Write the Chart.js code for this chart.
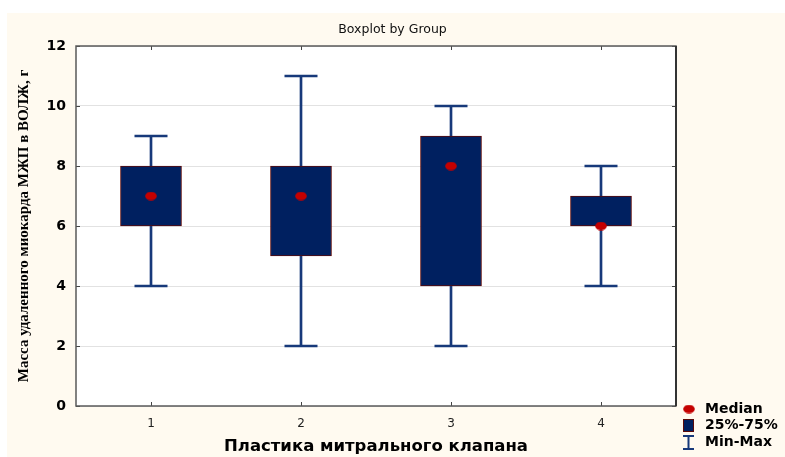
<!DOCTYPE html>
<html>
<head>
<meta charset="utf-8">
<script src="https://cdn.jsdelivr.net/npm/chart.js@4/dist/chart.umd.min.js"></script>
<style>
  html, body { margin: 0; padding: 0; background: #ffffff; }
  #wrap { width: 785px; height: 457px; }
</style>
</head>
<body>
<div id="wrap"><canvas id="c" width="785" height="457"></canvas></div>
<script>
// Group labels and summary statistics per group
const groups = ['1', '2', '3', '4'];
const minValues = [4, 2, 2, 4];
const q1Values = [6, 5, 4, 6];
const q3Values = [8, 8, 9, 7];
const maxValues = [9, 11, 10, 8];
const medianValues = [7, 7, 8, 6];
const legendLabels = ['Median', '25%-75%', 'Min-Max'];

const NAVY = '#002060';
const WHISKER = '#17397a';
const RED = '#c40000';

// Elliptical marker for medians
const medianMarker = document.createElement('canvas');
medianMarker.width = 12; medianMarker.height = 9;
(function () {
  const g = medianMarker.getContext('2d');
  g.fillStyle = RED;
  g.beginPath();
  g.ellipse(6, 4.5, 5.8, 4.3, 0, 0, Math.PI * 2);
  g.fill();
})();

// Page background panel, plot frame, inward ticks and legend
const panelPlugin = {
  id: 'panel',
  beforeDraw(chart) {
    const ctx = chart.ctx, a = chart.chartArea;
    ctx.save();
    ctx.fillStyle = '#ffffff';
    ctx.fillRect(0, 0, chart.width, chart.height);
    ctx.fillStyle = '#fffaf0';
    ctx.fillRect(7, 13, chart.width - 7, chart.height - 13);
    ctx.fillStyle = '#ffffff';
    ctx.fillRect(a.left, a.top, a.right - a.left, a.bottom - a.top);
    ctx.restore();
  },
  afterDatasetsDraw(chart) {
    const ctx = chart.ctx, a = chart.chartArea;
    const xs = chart.scales.x, ys = chart.scales.y;
    ctx.save();
    ctx.strokeStyle = '#444';
    ctx.lineWidth = 1;
    ctx.beginPath();
    groups.forEach((g, i) => {
      const x = Math.round(xs.getPixelForValue(i)) + 0.5;
      ctx.moveTo(x, a.top); ctx.lineTo(x, a.top + 4);
      ctx.moveTo(x, a.bottom); ctx.lineTo(x, a.bottom - 4);
    });
    ys.ticks.forEach(t => {
      const y = Math.round(ys.getPixelForValue(t.value)) + 0.5;
      ctx.moveTo(a.left, y); ctx.lineTo(a.left + 4, y);
      ctx.moveTo(a.right, y); ctx.lineTo(a.right - 4, y);
    });
    ctx.stroke();
    ctx.strokeStyle = '#5a5a5a';
    ctx.lineWidth = 1.5;
    ctx.strokeRect(a.left, a.top, a.right - a.left, a.bottom - a.top);
    ctx.strokeStyle = '#333';
    ctx.lineWidth = 2;
    ctx.beginPath();
    ctx.moveTo(a.right, a.top); ctx.lineTo(a.right, a.bottom);
    ctx.stroke();
    ctx.restore();
  },
  afterDraw(chart) {
    const ctx = chart.ctx;
    ctx.save();
    ctx.font = 'bold 14px "DejaVu Sans"';
    ctx.textBaseline = 'middle';
    const lx = 683, tx = 705;
    const rows = [409, 425.5, 442];
    ctx.drawImage(medianMarker, lx, rows[0] - 4.5);
    ctx.fillStyle = NAVY;
    ctx.fillRect(lx, rows[1] - 6.5, 11, 13);
    ctx.strokeStyle = '#5a0a0a'; ctx.lineWidth = 1;
    ctx.strokeRect(lx + 0.5, rows[1] - 6, 10, 12);
    ctx.strokeStyle = WHISKER; ctx.lineWidth = 2;
    ctx.beginPath();
    ctx.moveTo(lx, rows[2] - 6); ctx.lineTo(lx + 11, rows[2] - 6);
    ctx.moveTo(lx + 5.5, rows[2] - 6); ctx.lineTo(lx + 5.5, rows[2] + 7);
    ctx.moveTo(lx, rows[2] + 7); ctx.lineTo(lx + 11, rows[2] + 7);
    ctx.stroke();
    ctx.fillStyle = '#000';
    legendLabels.forEach((t, i) => ctx.fillText(t, tx, rows[i]));
    ctx.restore();
  }
};

new Chart(document.getElementById('c'), {
  data: {
    labels: groups,
    datasets: [
      {
        type: 'bar', label: 'range', order: 4, grouped: false,
        data: groups.map((g, i) => [minValues[i], maxValues[i]]),
        backgroundColor: WHISKER, barThickness: 2
      },
      {
        type: 'bar', label: 'quartiles', order: 3, grouped: false,
        data: groups.map((g, i) => [q1Values[i], q3Values[i]]),
        backgroundColor: NAVY, borderColor: '#5a0a0a', borderWidth: 1,
        borderSkipped: false, barThickness: 61
      },
      {
        type: 'line', label: 'max', order: 2, showLine: false,
        data: maxValues, pointStyle: 'line', pointRadius: 16.5,
        borderColor: WHISKER, borderWidth: 2.5, pointHoverRadius: 16.5
      },
      {
        type: 'line', label: 'min', order: 2, showLine: false,
        data: minValues, pointStyle: 'line', pointRadius: 16.5,
        borderColor: WHISKER, borderWidth: 2.5, pointHoverRadius: 16.5
      },
      {
        type: 'line', label: 'median', order: 1, showLine: false,
        data: medianValues, pointStyle: medianMarker
      }
    ]
  },
  options: {
    responsive: false,
    animation: false,
    layout: { padding: 0 },
    plugins: {
      legend: { display: false },
      tooltip: { enabled: false },
      title: {
        display: true, text: 'Boxplot by Group', color: '#111',
        font: { family: '"DejaVu Sans"', size: 12.5, weight: 'normal', lineHeight: 1.2 },
        padding: { top: 22, bottom: 9 }
      }
    },
    scales: {
      x: {
        type: 'category', offset: true,
        grid: { display: false, drawTicks: false },
        border: { display: false },
        ticks: { color: '#222', padding: 11, font: { family: '"DejaVu Sans"', size: 12 } },
        title: {
          display: true, text: 'Пластика митрального клапана', color: '#000',
          font: { family: '"DejaVu Sans"', size: 16.5, weight: 'bold', lineHeight: 1.2 },
          padding: { top: 13, bottom: 0 }
        },
        afterFit(s) { s.height = 51; }
      },
      y: {
        min: 0, max: 12,
        ticks: { stepSize: 2, color: '#000', padding: 10,
          font: { family: '"DejaVu Sans"', size: 14, weight: 'bold' } },
        grid: { color: '#e2e2e2', drawTicks: false, lineWidth: 1 },
        border: { display: false },
        title: {
          display: true, text: 'Масса удаленного миокарда МЖП в ВОЛЖ, г', color: '#000',
          font: { family: '"Liberation Serif"', size: 15, weight: 'bold', lineHeight: 1.2 },
          padding: { top: 15.5, bottom: 0 }
        },
        afterFit(s) { s.width = 76; }
      },
      // empty right-hand strip that holds the legend
      yRight: {
        position: 'right', min: 0, max: 12,
        grid: { display: false, drawTicks: false },
        border: { display: false },
        ticks: { display: false },
        afterFit(s) { s.width = 109; }
      }
    }
  },
  plugins: [panelPlugin]
});
</script>
</body>
</html>
